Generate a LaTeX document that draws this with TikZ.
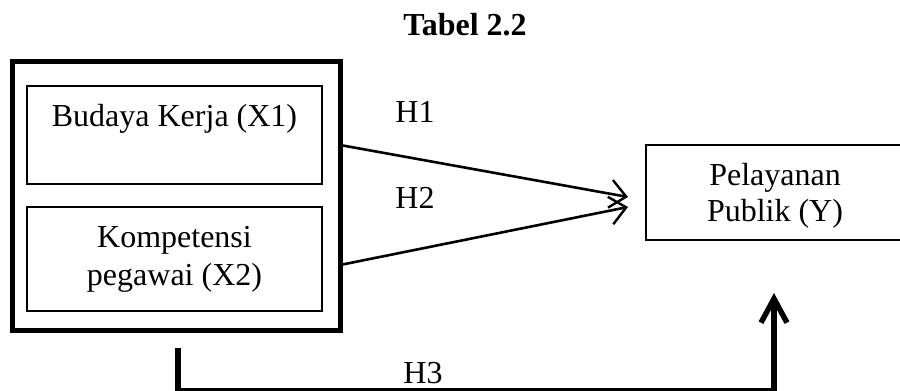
\documentclass[tikz,border=0pt]{standalone}
\usepackage{fontspec}
\setmainfont{Liberation Serif}
\usetikzlibrary{arrows.meta}
\begin{document}
\begin{tikzpicture}[x=0.5pt,y=-0.5pt,
  lbl/.style={font=\fontsize{16}{18.5}\selectfont, inner sep=0pt},
  frame/.style={draw, line width=2.5pt, inner sep=0pt,
    minimum width=164pt, minimum height=134.5pt},
  varbox/.style={draw, line width=0.6pt, inner sep=0pt},
  link/.style={line width=1.3pt,
    -{Straight Barb[length=8pt,width=14pt,line width=1.2pt]}},
  thickline/.style={line width=2.7pt},
  thinline/.style={line width=1.2pt},
]
\useasboundingbox (0,0) rectangle (900,391);

% title
\node[lbl, font=\fontsize{16}{18.5}\selectfont\bfseries, anchor=base] (title) at (465,35) {Tabel 2.2};

% outer frame holding the independent variables
\node[frame] (outer) at (176,195.5) {};

% X1
\node[varbox, minimum width=147.5pt, minimum height=49pt] (x1box) at (174.5,135) {};
\node[lbl, anchor=base] (x1) at (174.5,126) {Budaya Kerja (X1)};

% X2
\node[varbox, minimum width=147.5pt, minimum height=52pt] (x2box) at (174.5,259) {};
\node[lbl, anchor=base] (x2a) at (174.5,247) {Kompetensi};
\node[lbl, anchor=base] (x2b) at (174.5,285) {pegawai (X2)};

% Y
\node[varbox, minimum width=129pt, minimum height=47.5pt] (ybox) at (775,192.5) {};
\node[lbl, anchor=base] (ya) at (775,185) {Pelayanan};
\node[lbl, anchor=base] (yb) at (775,221) {Publik (Y)};

% connector end points
\coordinate (h1s) at (340,145);
\coordinate (h1e) at (628,197);
\coordinate (h2s) at (340,265);
\coordinate (h2e) at (628,207);
\coordinate (h3a) at (178,348);
\coordinate (h3b) at (178,391);
\coordinate (h3l) at (176,389.5);
\coordinate (h3r) at (776,389.5);
\coordinate (h3c) at (774,391);
\coordinate (h3d) at (774,293);

% hypotheses H1 and H2
\draw[link] (h1s) -- (h1e);
\draw[link] (h2s) -- (h2e);
\node[lbl, anchor=base west] (lh1) at (395,122) {H1};
\node[lbl, anchor=base west] (lh2) at (395,208) {H2};

% hypothesis H3 (simultaneous effect)
\draw[thickline] (h3a) -- (h3b);
\draw[thinline] (h3l) -- (h3r);
\draw[thickline, -{Straight Barb[length=12pt,width=13pt,line width=2.7pt]}] (h3c) -- (h3d);
\node[lbl, anchor=base west] (lh3) at (403,383) {H3};
\end{tikzpicture}
\end{document}
